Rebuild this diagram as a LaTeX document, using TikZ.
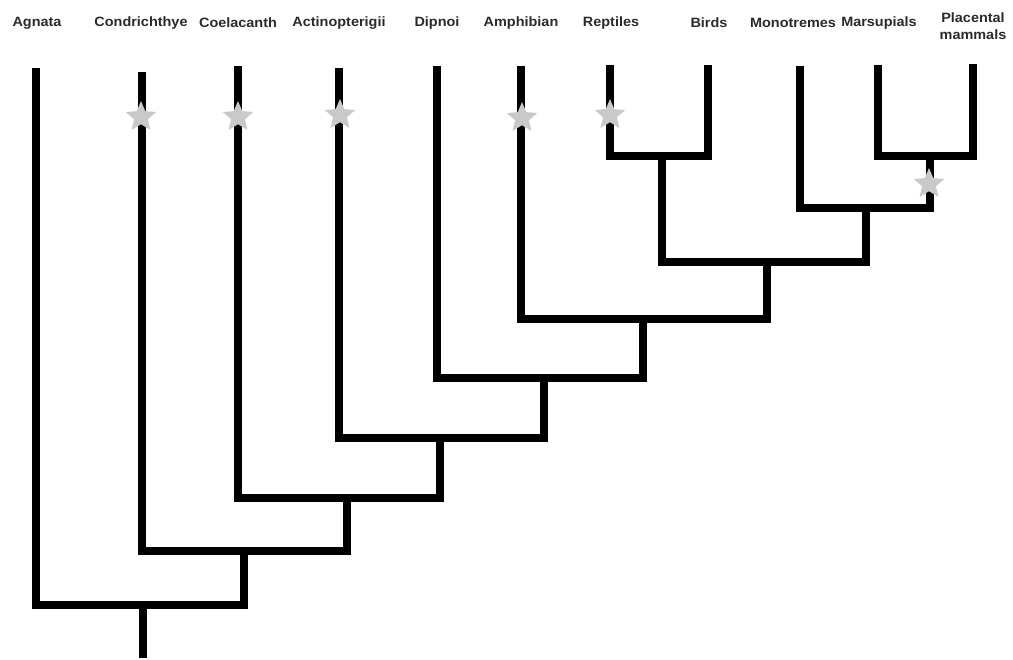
\documentclass[tikz,border=0pt]{standalone}
\usepackage{fontspec}
\setmainfont{Liberation Sans}
\usetikzlibrary{shapes.geometric}
\definecolor{labelgray}{HTML}{2A2A2A}
\definecolor{stargray}{HTML}{C9C9C9}
\begin{document}
\begin{tikzpicture}[x=1pt,y=-1pt,
  branch/.style={line width=7.5pt,line join=miter,line cap=butt,black},
  taxon/.style={font=\bfseries\fontsize{13.5}{15}\selectfont,text=labelgray,align=center,inner sep=0pt,xscale=1.07},
  mark star/.style={star,star points=5,star point ratio=2.2,minimum size=32pt,inner sep=0pt,fill=stargray,draw=none}]
\useasboundingbox (0,0) rectangle (1013,660);
% leaf tips
\coordinate (agn) at (36,68);
\coordinate (con) at (142,72);
\coordinate (coe) at (238,66);
\coordinate (act) at (339,68);
\coordinate (dip) at (437,66);
\coordinate (amp) at (521,66);
\coordinate (rep) at (610,65);
\coordinate (bir) at (708,65);
\coordinate (mon) at (800,66);
\coordinate (mar) at (878,65);
\coordinate (pla) at (973,64);
% internal nodes (x of stem, y of bar)
\coordinate (nRB) at (662,156);
\coordinate (nMP) at (930,156);
\coordinate (nMam) at (866,208);
\coordinate (nAmn) at (767,262);
\coordinate (nTet) at (643,319);
\coordinate (nDip) at (544,378);
\coordinate (nAct) at (440,438);
\coordinate (nCoe) at (347,498);
\coordinate (nCon) at (244,551);
\coordinate (nRoot) at (143,605);
\coordinate (base) at (143,658);
% branches
\draw[branch] (rep) |- (nRB) -| (bir);
\draw[branch] (mar) |- (nMP) -| (pla);
\draw[branch] (mon) |- (nMam) -| (nMP);
\draw[branch] (nRB) |- (nAmn) -| (nMam);
\draw[branch] (amp) |- (nTet) -| (nAmn);
\draw[branch] (dip) |- (nDip) -| (nTet);
\draw[branch] (act) |- (nAct) -| (nDip);
\draw[branch] (coe) |- (nCoe) -| (nAct);
\draw[branch] (con) |- (nCon) -| (nCoe);
\draw[branch] (agn) |- (nRoot) -| (nCon);
\draw[branch] (nRoot) -- (base);
% stars
\node[mark star] (s1) at (141,117) {};
\node[mark star] (s2) at (238,117) {};
\node[mark star] (s3) at (340,115) {};
\node[mark star] (s4) at (522,118) {};
\node[mark star] (s5) at (610,115) {};
\node[mark star] (s6) at (929,184) {};
% labels
\node[taxon] (tAgn) at (37,23) {Agnata};
\node[taxon] (tCon) at (141,23) {Condrichthye};
\node[taxon] (tCoe) at (238,23) {Coelacanth};
\node[taxon] (tAct) at (339,23) {Actinopterigii};
\node[taxon] (tDip) at (437,23) {Dipnoi};
\node[taxon] (tAmp) at (521,23) {Amphibian};
\node[taxon] (tRep) at (611,23) {Reptiles};
\node[taxon] (tBir) at (709,23) {Birds};
\node[taxon] (tMon) at (793,23) {Monotremes};
\node[taxon] (tMar) at (879,23) {Marsupials};
\node[taxon,font=\bfseries\fontsize{13.5}{17}\selectfont] (tPla) at (973,26) {Placental\\mammals};
\end{tikzpicture}
\end{document}
